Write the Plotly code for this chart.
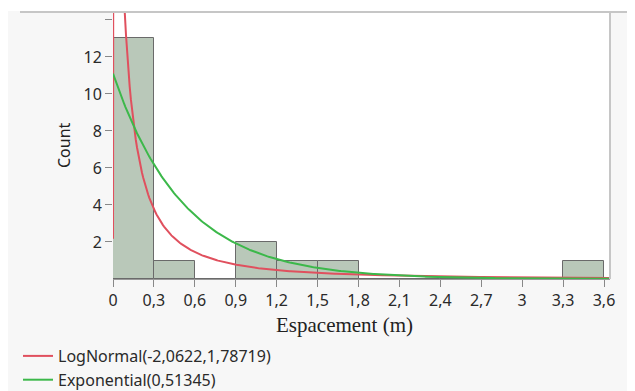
import numpy as np
import plotly.graph_objects as go

# ---- data ----
bin_left = [0.0, 0.3, 0.6, 0.9, 1.2, 1.5, 1.8, 2.1, 2.4, 2.7, 3.0, 3.3]
counts = [13, 1, 0, 2, 1, 1, 0, 0, 0, 0, 0, 1]
bin_width = 0.3
x_ticks = [0, 0.3, 0.6, 0.9, 1.2, 1.5, 1.8, 2.1, 2.4, 2.7, 3.0, 3.3, 3.6]
x_labels = ["0", "0,3", "0,6", "0,9", "1,2", "1,5", "1,8", "2,1", "2,4", "2,7", "3", "3,3", "3,6"]
y_ticks = [2, 4, 6, 8, 10, 12, 14]
y_labels = ["2", "4", "6", "8", "10", "12", ""]
lognorm_mu = -2.0622
lognorm_sigma = 1.78719
expo_scale = 0.51345

n_obs = sum(counts)
scale = n_obs * bin_width

xs = np.concatenate([np.geomspace(0.00006, 0.05, 200), np.linspace(0.05, 3.644, 400)])
ln_pdf = np.exp(-(np.log(xs) - lognorm_mu) ** 2 / (2 * lognorm_sigma ** 2)) / (xs * lognorm_sigma * np.sqrt(2 * np.pi))
xe = np.linspace(0, 3.644, 400)
ex_pdf = np.exp(-xe / expo_scale) / expo_scale

fig = go.Figure()
fig.add_trace(go.Bar(
    x=[b + bin_width / 2 for b in bin_left], y=counts, width=bin_width,
    marker=dict(color="#b9c8b9", line=dict(color="#6a6a6a", width=1)),
    showlegend=False, hoverinfo="skip"))
fig.add_trace(go.Scatter(
    x=xs, y=ln_pdf * scale, mode="lines",
    line=dict(color="#e0505e", width=2),
    name="LogNormal(-2,0622,1,78719)"))
fig.add_trace(go.Scatter(
    x=xe, y=ex_pdf * scale, mode="lines",
    line=dict(color="#3cb84a", width=2),
    name="Exponential(0,51345)"))

# page has an 8px body margin: figure coords = page coords - 8
OFF = 8
W, H = 635 - OFF, 391 - OFF
L = 113 - OFF
T = 12 - OFF
R = W - (610 - OFF)
B = H - (279 - OFF)
pw, ph = W - L - R, H - T - B

def px(xp):  # page pixel x -> paper
    return (xp - OFF - L) / pw

def py(yp):  # page pixel y -> paper
    return (H - B - (yp - OFF)) / ph

fig.update_layout(
    width=W, height=H,
    margin=dict(l=L, r=R, t=T, b=B, pad=0, autoexpand=False),
    paper_bgcolor="#f7f7f7", plot_bgcolor="white",
    font=dict(family="Noto Sans, DejaVu Sans, sans-serif", size=16, color="#2a2a2a"),
    bargap=0,
    showlegend=True,
    legend=dict(xref="container", yref="container", x=(18 - OFF) / W, y=1 - (339 - OFF) / H,
                xanchor="left", yanchor="top",
                bgcolor="rgba(0,0,0,0)", font=dict(size=16, color="#2a2a2a"),
                itemwidth=30, tracegroupgap=0),
    xaxis=dict(range=[0, 3.644], tickvals=x_ticks, ticktext=x_labels,
               ticks="outside", ticklen=7, tickcolor="#888", showgrid=False,
               zeroline=False, showline=True, linecolor="#999", linewidth=1,
               tickfont=dict(size=16), automargin=False),
    yaxis=dict(range=[0, 14.43], tickvals=y_ticks, ticktext=y_labels,
               ticks="outside", ticklen=7, tickcolor="#888", showgrid=False,
               zeroline=False, showline=False, tickfont=dict(size=16), automargin=False),
    shapes=[
        dict(type="rect", xref="paper", yref="paper", x0=px(0), x1=px(640), y0=py(0), y1=py(11),
             fillcolor="white", line=dict(width=0), layer="below"),
        dict(type="line", xref="paper", yref="paper", x0=px(20), x1=px(640), y0=py(12), y1=py(12),
             line=dict(color="#c6c6c6", width=2)),
        dict(type="line", xref="paper", yref="paper", x0=px(610), x1=px(610), y0=py(12), y1=py(279),
             line=dict(color="#c6c6c6", width=2)),
    ],
    annotations=[
        dict(text="Espacement (m)", xref="paper", yref="paper", x=px(344), y=py(325),
             showarrow=False, xanchor="center", yanchor="middle",
             font=dict(family="Liberation Serif, serif", size=21, color="#222")),
        dict(text="Count", xref="paper", yref="paper", x=px(64), y=py(145), textangle=-90,
             showarrow=False, xanchor="center", yanchor="middle",
             font=dict(size=16, color="#222")),
    ],
)

fig.write_html("out.html")
